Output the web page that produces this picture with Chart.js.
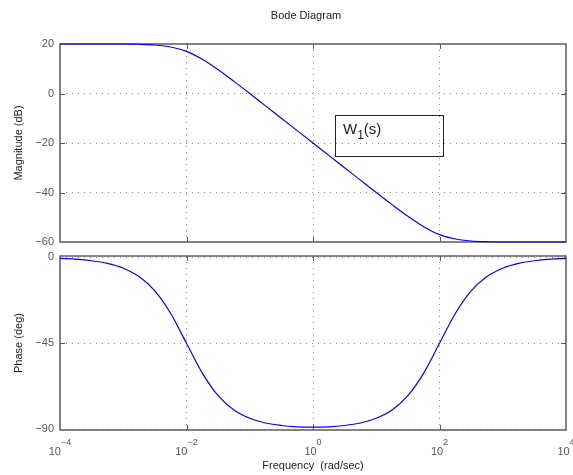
<!DOCTYPE html>
<html>
<head>
<meta charset="utf-8">
<title>Bode Diagram</title>
<script src="https://cdn.jsdelivr.net/npm/chart.js@4.4.1/dist/chart.umd.min.js"></script>
<style>
  html, body { margin: 0; padding: 0; background: #fff; }
  #wrap { position: relative; width: 573px; height: 475px; overflow: hidden; background: #fff; }
  canvas { position: absolute; left: 0; }
  #mag { top: 0; }
  #phase { top: 250px; }
</style>
</head>
<body>
<div id="wrap">
  <canvas id="mag" width="573" height="250"></canvas>
  <canvas id="phase" width="573" height="225"></canvas>
</div>
<script>
// W1(s) response, sampled every quarter decade
const freq = [1e-4, 1.778e-4, 3.162e-4, 5.623e-4, 1e-3, 1.778e-3, 3.162e-3, 5.623e-3,
  1e-2, 1.778e-2, 3.162e-2, 5.623e-2, 0.1, 0.1778, 0.3162, 0.5623,
  1, 1.778, 3.162, 5.623, 10, 17.78, 31.62, 56.23,
  100, 177.8, 316.2, 562.3, 1000, 1778, 3162, 5623, 10000];
const magDb = [20.0, 20.0, 20.0, 20.0, 20.0, 19.9, 19.6, 18.8,
  17.0, 13.8, 9.6, 4.9, 0.0, -5.0, -10.0, -15.0,
  -20.0, -25.0, -30.0, -35.0, -40.0, -44.9, -49.6, -53.8,
  -57.0, -58.8, -59.6, -59.9, -60.0, -60.0, -60.0, -60.0, -60.0];
const phaseDeg = [-0.6, -1.0, -1.8, -3.2, -5.7, -10.1, -17.6, -29.4,
  -45.0, -60.6, -72.4, -79.9, -84.2, -86.7, -88.0, -88.7,
  -88.9, -88.7, -88.0, -86.7, -84.2, -79.9, -72.4, -60.6,
  -45.0, -29.4, -17.6, -10.1, -5.7, -3.2, -1.8, -1.0, -0.6];

// axis ticks
const freqTicks = [1e-4, 1e-2, 1, 1e2, 1e4];
const freqExp = ['\u22124', '\u22122', '0', '2', '4'];
const magTicks = [20, 0, -20, -40, -60];
const phaseTicks = [0, -45, -90];

const FONT = "'Liberation Sans', Arial, Helvetica, sans-serif";
const gridCol = '#8a8a8a';
const lineCol = '#0000ff';

const minus = v => String(v).replace('-', '\u2212');

function edgeTransparent(edges) {
  return c => (c.tick && edges.includes(c.tick.value)) ? 'rgba(0,0,0,0)' : gridCol;
}

// box round the axes plus small inward ticks
const frame = {
  id: 'frame',
  beforeDatasetsDraw(chart) {
    const { ctx, chartArea: a, scales: { x, y } } = chart;
    ctx.save();
    ctx.strokeStyle = '#5c5c5c';
    ctx.lineWidth = 1.5;
    ctx.strokeRect(a.left, a.top, a.right - a.left, a.bottom - a.top);
    ctx.lineWidth = 1;
    ctx.beginPath();
    x.ticks.forEach(t => {
      const px = Math.round(x.getPixelForValue(t.value)) + 0.5;
      if (px < a.left + 2 || px > a.right - 2) return;
      ctx.moveTo(px, a.top); ctx.lineTo(px, a.top + 5);
      ctx.moveTo(px, a.bottom); ctx.lineTo(px, a.bottom - 5);
    });
    y.ticks.forEach(t => {
      const py = Math.round(y.getPixelForValue(t.value)) + 0.5;
      if (py < a.top + 2 || py > a.bottom - 2) return;
      ctx.moveTo(a.left, py); ctx.lineTo(a.left + 5, py);
      ctx.moveTo(a.right, py); ctx.lineTo(a.right - 5, py);
    });
    ctx.stroke();
    ctx.restore();
  }
};

// title and the W1(s) label box
const magDecor = {
  id: 'magDecor',
  afterDraw(chart) {
    const ctx = chart.ctx;
    ctx.save();
    ctx.fillStyle = '#222';
    ctx.font = '11px ' + FONT;
    ctx.textAlign = 'center';
    ctx.textBaseline = 'alphabetic';
    ctx.fillText('Bode Diagram', 306, 18.5);

    ctx.strokeStyle = '#222';
    ctx.lineWidth = 1;
    ctx.strokeRect(335.5, 115.5, 108, 41);
    ctx.textAlign = 'left';
    ctx.font = '15px ' + FONT;
    ctx.fillText('W', 343, 133.5);
    const wW = ctx.measureText('W').width;
    ctx.font = '12px ' + FONT;
    ctx.fillText('1', 343 + wW, 139);
    const w1 = ctx.measureText('1').width;
    ctx.font = '15px ' + FONT;
    ctx.fillText('(s)', 343 + wW + w1, 133.5);
    ctx.restore();
  }
};

// decade labels 10^n under the phase axes
const decadeLabels = {
  id: 'decadeLabels',
  afterDraw(chart) {
    const { ctx, chartArea: a, scales: { x } } = chart;
    ctx.save();
    ctx.fillStyle = '#555';
    ctx.textAlign = 'left';
    ctx.textBaseline = 'alphabetic';
    freqTicks.forEach((v, i) => {
      const px = x.getPixelForValue(v);
      ctx.font = '11px ' + FONT;
      const wb = ctx.measureText('10').width;
      ctx.font = '9px ' + FONT;
      const we = ctx.measureText(freqExp[i]).width;
      const left = px - (wb + we) / 2;
      ctx.font = '11px ' + FONT;
      ctx.fillText('10', left, a.bottom + 24.5);
      ctx.font = '9px ' + FONT;
      ctx.fillText(freqExp[i], left + wb, a.bottom + 15);
    });
    ctx.restore();
  }
};

function xScale(showTitle) {
  return {
    type: 'logarithmic',
    min: 1e-4,
    max: 1e4,
    afterBuildTicks: s => { s.ticks = freqTicks.map(v => ({ value: v })); },
    afterFit: s => {
      s.height = showTitle ? 45 : 0;
      s.paddingLeft = s.paddingRight = 0;
    },
    ticks: { display: false },
    grid: { color: edgeTransparent([1e-4, 1e4]), lineWidth: 1, drawTicks: false },
    border: { display: false, dash: [1, 5] },
    title: {
      display: showTitle,
      text: 'Frequency  (rad/sec)',
      color: '#222',
      font: { family: FONT, size: 11 },
      padding: { top: 0, bottom: 2.5 }
    }
  };
}

function yScale(min, max, ticks, label, edges) {
  return {
    min: min,
    max: max,
    afterBuildTicks: s => { s.ticks = ticks.map(v => ({ value: v })); },
    afterFit: s => {
      s.width = 60;
      // keep end labels from pushing the plot area in
      s.paddingTop = s.paddingBottom = 0;
    },
    ticks: {
      color: '#555',
      padding: 6,
      font: { family: FONT, size: 11 },
      callback: v => minus(v)
    },
    grid: { color: edgeTransparent(edges), lineWidth: 1, drawTicks: false },
    border: { display: false, dash: [1, 5] },
    title: {
      display: true,
      text: label,
      color: '#222',
      font: { family: FONT, size: 11 },
      padding: { top: 12, bottom: 0 }
    }
  };
}

function lineSet(values) {
  return {
    data: freq.map((f, i) => ({ x: f, y: values[i] })),
    borderColor: lineCol,
    borderWidth: 1.2,
    pointRadius: 0,
    fill: false,
    cubicInterpolationMode: 'monotone',
    clip: 3
  };
}

const common = {
  responsive: false,
  animation: false,
  devicePixelRatio: 1,
  events: [],
  plugins: { legend: { display: false }, title: { display: false }, tooltip: { enabled: false } }
};

new Chart(document.getElementById('mag'), {
  type: 'line',
  data: { datasets: [lineSet(magDb)] },
  options: Object.assign({}, common, {
    layout: { padding: { top: 44, right: 7, bottom: 8, left: 0 } },
    scales: {
      x: xScale(false),
      y: yScale(-60, 20, magTicks, 'Magnitude (dB)', [20, -60])
    }
  }),
  plugins: [frame, magDecor]
});

new Chart(document.getElementById('phase'), {
  type: 'line',
  data: { datasets: [lineSet(phaseDeg)] },
  options: Object.assign({}, common, {
    layout: { padding: { top: 6, right: 7, bottom: 0, left: 0 } },
    scales: {
      x: xScale(true),
      y: yScale(-90.37, 0.68, phaseTicks, 'Phase (deg)', [])
    }
  }),
  plugins: [frame, decadeLabels]
});
</script>
</body>
</html>
